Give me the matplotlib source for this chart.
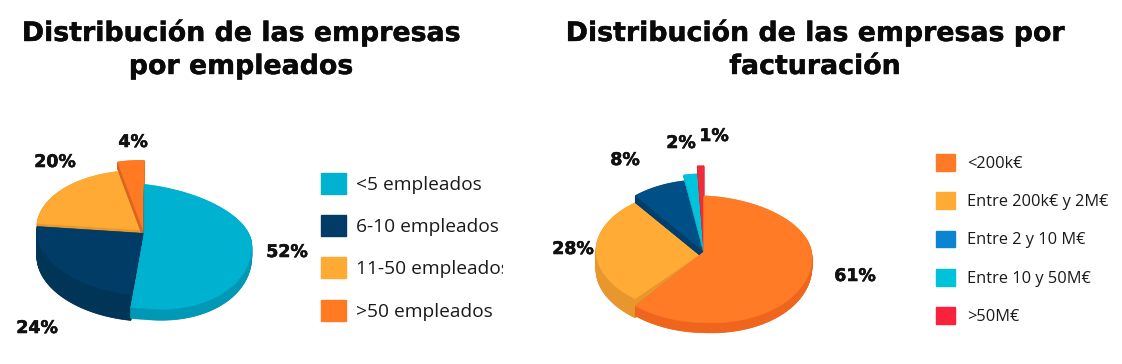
import numpy as np
import matplotlib
matplotlib.use("Agg")
import matplotlib.pyplot as plt
import matplotlib.patheffects as pe
from matplotlib.patches import Patch
from matplotlib.transforms import Bbox

# data
labels_emp = ["<5 empleados", "6-10 empleados", "11-50 empleados", ">50 empleados"]
values_emp = [52, 24, 20, 4]
labels_fac = ["<200k€", "Entre 200k€ y 2M€", "Entre 2 y 10 M€", "Entre 10 y 50M€", ">50M€"]
values_fac = [61, 28, 8, 2, 1]

# styles per slice: top colour, side colour, back radius, front radius, lift, depth
style_emp = [("#00B2D0", "#0098B4", 49, 75, 0, 11),
             ("#003C66", "#003557", 62, 62, 0, 26),
             ("#FFAA35", "#E8962E", 60, 60, 3, 5),
             ("#FF7A22", "#D9661E", 73, 73, 0, 7)]
style_fac = [("#FF7B25", "#F0651E", 56, 71, 0, 10),
             ("#FFAB35", "#E8962E", 63, 62, 0, 19),
             ("#004F86", "#003F6C", 72, 72, 0, 7),
             ("#00C4DC", "#00A8BE", 78, 78, 0, 2),
             ("#EF2B3C", "#C82030", 86, 86, 0, 1)]
order_emp = [2, 3, 1, 0]
order_fac = [1, 2, 3, 4, 0]

swatch_emp = ["#00B2D0", "#003C66", "#FFAA35", "#FF7A22"]
swatch_fac = ["#FF7A26", "#FFAB36", "#0B84D2", "#00C2DB", "#F9213C"]

pos_emp = [(287, 252), (37, 328), (55, 162), (133, 142)]
pos_fac = [(855, 276), (573, 249), (625, 160), (681, 143), (714, 136)]


def slice_outline(a0, a1, cx, cy, rx, back, front, shear):
    t = np.radians(np.linspace(a0, a1, 80))
    u = np.concatenate([[0], np.sin(t), [0]])
    v = np.concatenate([[0], np.cos(t), [0]])
    ry = np.where(v > 0, back, front)
    s = np.where(u > 0, shear[1], shear[0])
    return cx + rx * u, cy - ry * v + s * u


def draw_pie(ax, values, style, order, cx, cy, rx, shear):
    edges = np.cumsum([0] + values) * 360.0 / sum(values)
    for i in order:
        top, side, back, front, lift, depth = style[i]
        x, y = slice_outline(edges[i], edges[i + 1], cx, cy - lift, rx, back, front, shear)
        for d in np.arange(depth, 0, -0.5):
            ax.fill(x, y + d, color=side, lw=0.5)
        ax.fill(x, y, color=top, lw=0.3)


fig = plt.figure(figsize=(11.22, 3.64), dpi=100)
ax = fig.add_axes([0, 0, 1, 1])
ax.set_xlim(0, 1122)
ax.set_ylim(364, 0)
ax.axis("off")

draw_pie(ax, values_emp, style_emp, order_emp, 144.3, 233.3, 107.5, (3, 12))
draw_pie(ax, values_fac, style_fac, order_fac, 704, 251.7, 108, (1, 5))

heavy = [pe.withStroke(linewidth=0.4, foreground="#111111")]
for v, p in zip(values_emp + values_fac, pos_emp + pos_fac):
    ax.text(p[0], p[1], str(v) + "%", fontsize=12.5, fontweight="bold",
            family="DejaVu Sans", ha="center", va="center", color="#111111",
            path_effects=heavy)

title_kw = dict(fontsize=19.3, fontweight="bold", family="DejaVu Sans",
                ha="center", va="center", color="#0a0a0a",
                path_effects=[pe.withStroke(linewidth=0.3, foreground="#0a0a0a")])
ax.text(241, 33, "Distribución de las empresas", **title_kw)
ax.text(241, 67, "por empleados", **title_kw)
ax.text(815, 33, "Distribución de las empresas por", **title_kw)
ax.text(815, 67, "facturación", **title_kw)

h1 = [Patch(color=c) for c in swatch_emp]
leg1 = ax.legend(h1, labels_emp, loc="upper left", bbox_to_anchor=(313 / 1122, 1 - 165 / 364),
                 frameon=False, prop={"family": "Open Sans", "size": 13.8},
                 handlelength=1.3, handleheight=1.3, handletextpad=0.55, labelspacing=1.12,
                 borderpad=0.4, borderaxespad=0)
ax.add_artist(leg1)
for t in leg1.get_texts():
    t.set_color("#1a1a1a")
    t.set_clip_box(Bbox([[0, 0], [503, 364]]))
    t.set_clip_on(True)

h2 = [Patch(color=c) for c in swatch_fac]
leg2 = ax.legend(h2, labels_fac, loc="upper left", bbox_to_anchor=(929 / 1122, 1 - 147.5 / 364),
                 frameon=False, prop={"family": "Open Sans", "size": 11.8},
                 handlelength=1.2, handleheight=1.2, handletextpad=0.7, labelspacing=1.24,
                 borderpad=0.4, borderaxespad=0)
for t in leg2.get_texts():
    t.set_color("#1a1a1a")

fig.savefig("out.png", dpi=100)
